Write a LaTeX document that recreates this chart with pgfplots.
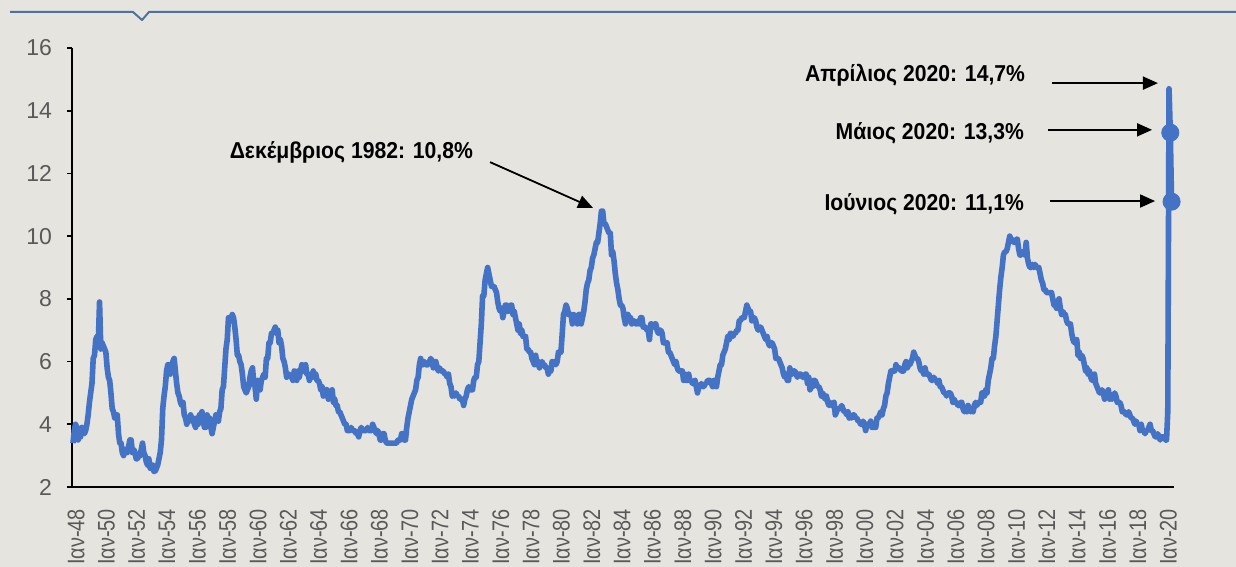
\documentclass[border=0pt]{standalone}
\usepackage{pgfplots}
\pgfplotsset{compat=1.18}
\usepackage{pgfplotstable}
\usepackage{fontspec}
\setmainfont{Liberation Sans}
\newfontfamily\annfont[FakeStretch=0.92]{Liberation Sans}
\newfontfamily\xtickfont[FakeStretch=0.83]{Liberation Sans}
\usetikzlibrary{arrows.meta}
\definecolor{bg}{RGB}{229,228,223}
\definecolor{topline}{RGB}{79,113,160}
\definecolor{serie}{RGB}{68,114,196}
\definecolor{ticklab}{RGB}{89,89,89}

\pgfplotstableread[row sep=\\]{
y\\
3.4\\3.8\\4.0\\3.9\\3.5\\3.6\\3.6\\3.9\\3.8\\3.7\\3.8\\4.0\\
4.3\\4.7\\5.0\\5.3\\6.1\\6.2\\6.7\\6.8\\6.6\\7.9\\6.4\\6.6\\
6.5\\6.4\\6.3\\5.8\\5.5\\5.4\\5.0\\4.5\\4.4\\4.2\\4.2\\4.3\\
3.7\\3.4\\3.4\\3.1\\3.0\\3.2\\3.1\\3.1\\3.3\\3.5\\3.5\\3.1\\
3.2\\3.1\\2.9\\2.9\\3.0\\3.0\\3.2\\3.4\\3.1\\3.0\\2.8\\2.7\\
2.9\\2.6\\2.6\\2.7\\2.5\\2.5\\2.6\\2.7\\2.9\\3.1\\3.5\\4.5\\
4.9\\5.2\\5.7\\5.9\\5.9\\5.6\\5.8\\6.0\\6.1\\5.7\\5.3\\5.0\\
4.9\\4.7\\4.6\\4.7\\4.3\\4.2\\4.0\\4.2\\4.1\\4.3\\4.2\\4.2\\
4.0\\3.9\\4.2\\4.0\\4.3\\4.3\\4.4\\4.1\\3.9\\3.9\\4.3\\4.2\\
4.2\\3.9\\3.7\\3.9\\4.1\\4.3\\4.2\\4.1\\4.4\\4.5\\5.1\\5.2\\
5.8\\6.4\\6.7\\7.4\\7.4\\7.3\\7.5\\7.4\\7.1\\6.7\\6.2\\6.2\\
6.0\\5.9\\5.6\\5.2\\5.1\\5.0\\5.1\\5.2\\5.5\\5.7\\5.8\\5.3\\
5.2\\4.8\\5.4\\5.2\\5.1\\5.4\\5.5\\5.6\\5.5\\6.1\\6.1\\6.6\\
6.6\\6.9\\6.9\\7.0\\7.1\\6.9\\7.0\\6.6\\6.7\\6.5\\6.1\\6.0\\
5.8\\5.5\\5.6\\5.6\\5.5\\5.5\\5.4\\5.7\\5.6\\5.4\\5.7\\5.5\\
5.7\\5.9\\5.7\\5.7\\5.9\\5.6\\5.6\\5.4\\5.5\\5.5\\5.7\\5.5\\
5.6\\5.4\\5.4\\5.3\\5.1\\5.2\\4.9\\5.0\\5.1\\5.1\\4.8\\5.0\\
4.9\\5.1\\4.7\\4.8\\4.6\\4.6\\4.4\\4.4\\4.3\\4.2\\4.1\\4.0\\
4.0\\3.8\\3.8\\3.8\\3.9\\3.8\\3.8\\3.8\\3.7\\3.7\\3.6\\3.8\\
3.9\\3.8\\3.8\\3.8\\3.8\\3.9\\3.8\\3.8\\3.8\\4.0\\3.9\\3.8\\
3.7\\3.8\\3.7\\3.5\\3.5\\3.7\\3.7\\3.5\\3.4\\3.4\\3.4\\3.4\\
3.4\\3.4\\3.4\\3.4\\3.4\\3.5\\3.5\\3.5\\3.7\\3.7\\3.5\\3.5\\
3.9\\4.2\\4.4\\4.6\\4.8\\4.9\\5.0\\5.1\\5.4\\5.5\\5.9\\6.1\\
5.9\\5.9\\6.0\\5.9\\5.9\\5.9\\6.0\\6.1\\6.0\\5.8\\6.0\\6.0\\
5.8\\5.7\\5.8\\5.7\\5.7\\5.7\\5.6\\5.6\\5.5\\5.6\\5.3\\5.2\\
4.9\\5.0\\4.9\\5.0\\4.9\\4.9\\4.8\\4.8\\4.8\\4.6\\4.8\\4.9\\
5.1\\5.2\\5.1\\5.1\\5.1\\5.4\\5.5\\5.5\\5.9\\6.0\\6.6\\7.2\\
8.1\\8.1\\8.6\\8.8\\9.0\\8.8\\8.6\\8.4\\8.4\\8.4\\8.3\\8.2\\
7.9\\7.7\\7.6\\7.7\\7.4\\7.6\\7.8\\7.8\\7.6\\7.7\\7.8\\7.8\\
7.5\\7.6\\7.4\\7.2\\7.0\\7.2\\6.9\\7.0\\6.8\\6.8\\6.8\\6.4\\
6.4\\6.3\\6.3\\6.1\\6.0\\5.9\\6.2\\5.9\\6.0\\5.8\\5.9\\6.0\\
5.9\\5.9\\5.8\\5.8\\5.6\\5.7\\5.7\\6.0\\5.9\\6.0\\5.9\\6.0\\
6.3\\6.3\\6.3\\6.9\\7.5\\7.6\\7.8\\7.7\\7.5\\7.5\\7.5\\7.2\\
7.5\\7.4\\7.4\\7.2\\7.5\\7.5\\7.2\\7.4\\7.6\\7.9\\8.3\\8.5\\
8.6\\8.9\\9.0\\9.3\\9.4\\9.6\\9.8\\9.8\\10.1\\10.4\\10.8\\10.8\\
10.4\\10.4\\10.3\\10.2\\10.1\\10.1\\9.4\\9.5\\9.2\\8.8\\8.5\\8.3\\
8.0\\7.8\\7.8\\7.7\\7.4\\7.2\\7.5\\7.5\\7.3\\7.4\\7.2\\7.3\\
7.3\\7.2\\7.2\\7.3\\7.2\\7.4\\7.4\\7.1\\7.1\\7.1\\7.0\\7.0\\
6.7\\7.2\\7.2\\7.1\\7.2\\7.2\\7.0\\6.9\\7.0\\7.0\\6.9\\6.6\\
6.6\\6.6\\6.6\\6.3\\6.3\\6.2\\6.1\\6.0\\5.9\\6.0\\5.8\\5.7\\
5.7\\5.7\\5.7\\5.4\\5.6\\5.4\\5.4\\5.6\\5.4\\5.4\\5.3\\5.3\\
5.4\\5.2\\5.0\\5.2\\5.2\\5.3\\5.2\\5.2\\5.3\\5.3\\5.4\\5.4\\
5.4\\5.3\\5.2\\5.4\\5.4\\5.2\\5.5\\5.7\\5.9\\5.9\\6.2\\6.3\\
6.4\\6.6\\6.8\\6.7\\6.9\\6.9\\6.8\\6.9\\6.9\\7.0\\7.0\\7.3\\
7.3\\7.4\\7.4\\7.4\\7.6\\7.8\\7.7\\7.6\\7.6\\7.3\\7.4\\7.4\\
7.3\\7.1\\7.0\\7.1\\7.1\\7.0\\6.9\\6.8\\6.7\\6.8\\6.6\\6.5\\
6.6\\6.6\\6.5\\6.4\\6.1\\6.1\\6.1\\6.0\\5.9\\5.8\\5.6\\5.5\\
5.6\\5.4\\5.4\\5.8\\5.6\\5.6\\5.7\\5.7\\5.6\\5.5\\5.6\\5.6\\
5.6\\5.5\\5.5\\5.6\\5.6\\5.3\\5.5\\5.1\\5.2\\5.2\\5.4\\5.4\\
5.3\\5.2\\5.2\\5.1\\4.9\\5.0\\4.9\\4.8\\4.9\\4.7\\4.6\\4.7\\
4.6\\4.6\\4.7\\4.3\\4.4\\4.5\\4.5\\4.5\\4.6\\4.5\\4.4\\4.4\\
4.3\\4.4\\4.2\\4.3\\4.2\\4.3\\4.3\\4.2\\4.2\\4.1\\4.1\\4.0\\
4.0\\4.1\\4.0\\3.8\\4.0\\4.0\\4.0\\4.1\\3.9\\3.9\\3.9\\3.9\\
4.2\\4.2\\4.3\\4.4\\4.3\\4.5\\4.6\\4.9\\5.0\\5.3\\5.5\\5.7\\
5.7\\5.7\\5.7\\5.9\\5.8\\5.8\\5.8\\5.7\\5.7\\5.7\\5.9\\6.0\\
5.8\\5.9\\5.9\\6.0\\6.1\\6.3\\6.2\\6.1\\6.1\\6.0\\5.8\\5.7\\
5.7\\5.6\\5.8\\5.6\\5.6\\5.6\\5.5\\5.4\\5.4\\5.5\\5.4\\5.4\\
5.3\\5.4\\5.2\\5.2\\5.1\\5.0\\5.0\\4.9\\5.0\\5.0\\5.0\\4.9\\
4.7\\4.8\\4.7\\4.7\\4.6\\4.6\\4.7\\4.7\\4.5\\4.4\\4.5\\4.4\\
4.6\\4.5\\4.4\\4.5\\4.4\\4.6\\4.7\\4.6\\4.7\\4.7\\4.7\\5.0\\
5.0\\4.9\\5.1\\5.0\\5.4\\5.6\\5.8\\6.1\\6.1\\6.5\\6.8\\7.3\\
7.8\\8.3\\8.7\\9.0\\9.4\\9.5\\9.5\\9.6\\9.8\\10.0\\9.9\\9.9\\
9.8\\9.8\\9.9\\9.9\\9.6\\9.4\\9.4\\9.5\\9.5\\9.4\\9.8\\9.3\\
9.1\\9.0\\9.0\\9.1\\9.0\\9.1\\9.0\\9.0\\9.0\\8.8\\8.6\\8.5\\
8.3\\8.3\\8.2\\8.2\\8.2\\8.2\\8.2\\8.0\\7.8\\7.8\\7.7\\7.9\\
8.0\\7.7\\7.5\\7.6\\7.5\\7.5\\7.3\\7.2\\7.2\\7.2\\6.9\\6.7\\
6.6\\6.7\\6.7\\6.2\\6.3\\6.1\\6.2\\6.1\\5.9\\5.7\\5.8\\5.6\\
5.7\\5.5\\5.4\\5.4\\5.6\\5.3\\5.2\\5.1\\5.0\\5.0\\5.1\\5.0\\
4.8\\4.9\\5.0\\5.1\\4.8\\4.9\\4.8\\4.9\\5.0\\4.9\\4.7\\4.7\\
4.7\\4.6\\4.4\\4.4\\4.4\\4.3\\4.3\\4.4\\4.3\\4.2\\4.2\\4.1\\
4.0\\4.1\\4.0\\4.0\\3.8\\4.0\\3.8\\3.8\\3.7\\3.8\\3.8\\3.9\\
4.0\\3.8\\3.8\\3.7\\3.6\\3.6\\3.7\\3.6\\3.5\\3.6\\3.6\\3.6\\
3.5\\3.5\\4.4\\14.7\\13.3\\11.1\\
}\unrate

\begin{document}
\begin{tikzpicture}
\useasboundingbox (0,0) rectangle (618pt,283.5pt);
\fill[bg] (0,0) rectangle (618pt,283.5pt);
\clip (0,0) rectangle (618pt,283.5pt);
\draw[topline, line width=1pt, line join=round] (5pt,277.5pt) -- (66.5pt,277.5pt) -- (71pt,273.5pt) -- (74.5pt,277.5pt) -- (620pt,277.5pt);
\begin{axis}[
  at={(36pt,40pt)}, anchor=south west,
  width=551pt, height=219.5pt, scale only axis,
  xmin=1947.934, xmax=2020.578,
  ymin=2, ymax=16,
  ytick={2,4,...,16},
  xtick={1948,1950,...,2020},
  xticklabels={Ιαν-48,Ιαν-50,Ιαν-52,Ιαν-54,Ιαν-56,Ιαν-58,Ιαν-60,Ιαν-62,Ιαν-64,Ιαν-66,Ιαν-68,Ιαν-70,Ιαν-72,Ιαν-74,Ιαν-76,Ιαν-78,Ιαν-80,Ιαν-82,Ιαν-84,Ιαν-86,Ιαν-88,Ιαν-90,Ιαν-92,Ιαν-94,Ιαν-96,Ιαν-98,Ιαν-00,Ιαν-02,Ιαν-04,Ιαν-06,Ιαν-08,Ιαν-10,Ιαν-12,Ιαν-14,Ιαν-16,Ιαν-18,Ιαν-20},
  axis x line*=bottom, axis y line*=left,
  axis line style={-, black, line width=0.9pt},
  xtick style={draw=none},
  ytick style={black, line width=0.9pt},
  tick align=outside, major tick length=2.5pt,
  /pgf/number format/assume math mode=true,
  yticklabel style={font=\fontsize{11.5}{13}\selectfont, text=ticklab, xshift=-4pt},
  xticklabel style={font=\xtickfont\fontsize{12}{13}\selectfont, text=ticklab, xshift=1.5pt, yshift=-5pt, rotate=90, anchor=east},
  clip=false,
]
\addplot[serie, line width=2.8pt, line join=round] table[x expr={1948+\coordindex/12}, y=y] {\unrate};
\addplot[only marks, mark=*, mark size=4.3pt, serie] coordinates {(2020.3333,13.3) (2020.4167,11.1)};

\node[anchor=east, font=\annfont\bfseries\fontsize{11.5}{13}\selectfont] at (axis cs:1974.83,12.68) {Δεκέμβριος 1982: 10,8\%};
\node[anchor=east, font=\annfont\bfseries\fontsize{11.5}{13}\selectfont] at (axis cs:2011.22,15.14) {Απρίλιος 2020: 14,7\%};
\node[anchor=east, font=\annfont\bfseries\fontsize{11.5}{13}\selectfont] at (axis cs:2011.15,13.29) {Μάιος 2020: 13,3\%};
\node[anchor=east, font=\annfont\bfseries\fontsize{11.5}{13}\selectfont] at (axis cs:2011.15,11.0) {Ιούνιος 2020: 11,1\%};
\draw[-{Triangle[length=7.5pt,width=6.5pt]}, line width=0.9pt] (axis cs:1975.49,12.36) -- (axis cs:1982.28,10.90);
\draw[-{Triangle[length=7.5pt,width=6.5pt]}, line width=0.9pt] (axis cs:2012.54,14.88) -- (axis cs:2019.52,14.88);
\draw[-{Triangle[length=7.5pt,width=6.5pt]}, line width=0.9pt] (axis cs:2012.27,13.39) -- (axis cs:2019.13,13.39);
\draw[-{Triangle[length=7.5pt,width=6.5pt]}, line width=0.9pt] (axis cs:2012.40,11.12) -- (axis cs:2019.33,11.12);
\end{axis}
\end{tikzpicture}
\end{document}
